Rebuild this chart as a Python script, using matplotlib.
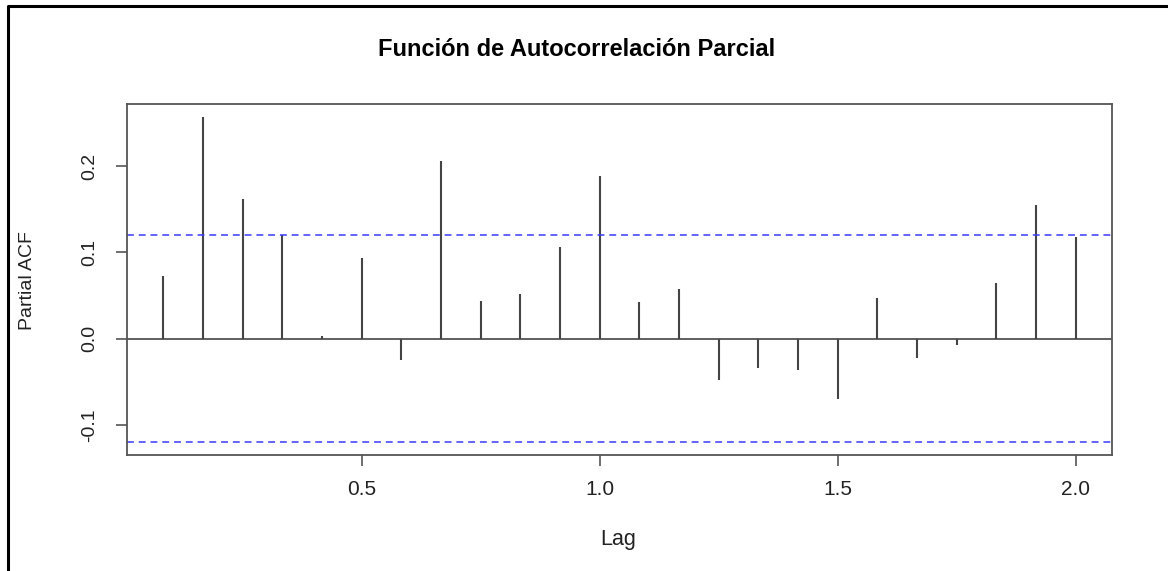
import matplotlib
matplotlib.use('Agg')
import matplotlib.pyplot as plt
from matplotlib.lines import Line2D
import numpy as np

plt.rcParams['font.family'] = ['Liberation Sans', 'DejaVu Sans']

# partial autocorrelations, monthly series, lags 1..24 (in years)
lags = np.arange(1, 25) / 12.0
pacf_vals = [0.072, 0.257, 0.162, 0.120, 0.003, 0.093, -0.025, 0.206,
             0.043, 0.052, 0.106, 0.189, 0.042, 0.057, -0.048, -0.034,
             -0.037, -0.070, 0.047, -0.022, -0.007, 0.065, 0.155, 0.118]
clim = 0.120  # 95% confidence bound

title = 'Función de Autocorrelación Parcial'
xlab = 'Lag'
ylab = 'Partial ACF'
xticks = [0.5, 1.0, 1.5, 2.0]
yticks = [-0.1, 0.0, 0.1, 0.2]

W, H = 1168, 571
fig = plt.figure(figsize=(W / 100, H / 100), dpi=100)
ax = fig.add_axes([127 / W, 1 - 455 / H, (1112 - 127) / W, (455 - 104) / H])

ax.vlines(lags, 0, pacf_vals, color='#444444', lw=1.5)
ax.axhline(0, color='#444444', lw=1.2)
for c in (clim, -clim):
    ax.axhline(c, color='#3a3aff', lw=1.1, ls=(0, (4.5, 3.2)))

# R style axis ranges (4% padding)
xr = lags.max() - lags.min()
ax.set_xlim(lags.min() - 0.04 * xr, lags.max() + 0.04 * xr)
lo = min(min(pacf_vals), -clim)
hi = max(max(pacf_vals), clim)
ax.set_ylim(lo - 0.04 * (hi - lo), hi + 0.04 * (hi - lo))

ax.set_xticks(xticks)
ax.set_yticks(yticks)
ax.set_xticklabels(['%.1f' % t for t in xticks])
ax.set_yticklabels(['%.1f' % t for t in yticks], rotation=90, va='center')
ax.tick_params(length=8, width=1.2, color='#555555', labelcolor='#222222')
ax.tick_params(axis='x', labelsize=15, pad=10)
ax.tick_params(axis='y', labelsize=14, pad=13)
for s in ax.spines.values():
    s.set_color('#555555')
    s.set_linewidth(1.3)

fig.text(577 / W, 1 - 56.5 / H, title, ha='center', va='baseline',
         fontsize=17, fontweight='bold', color='black')
fig.text(618 / W, 1 - 539 / H, xlab, ha='center', va='center',
         fontsize=15.5, color='#222222')
fig.text(28 / W, 1 - 281 / H, ylab, ha='center', va='center', rotation=90,
         fontsize=14, color='#222222')

# outer frame (left and top edge of the screenshot)
fig.add_artist(Line2D([8 / W, 8 / W, 1], [0, 1 - 6 / H, 1 - 6 / H],
                      transform=fig.transFigure, color='black', lw=2.2))

fig.savefig('out.png', dpi=100, facecolor='white')
